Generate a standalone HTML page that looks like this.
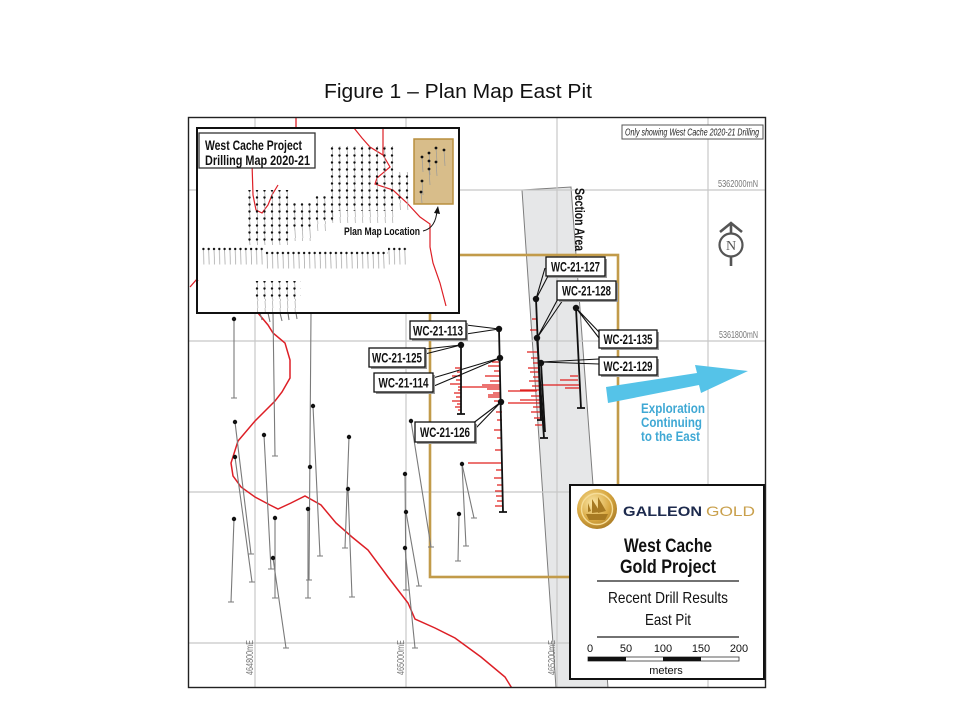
<!DOCTYPE html>
<html><head><meta charset="utf-8"><style>
html,body{margin:0;padding:0;background:#fff;}
svg{display:block;}
.c{font-family:"Liberation Sans Narrow","Liberation Sans",sans-serif;}
</style></head><body>
<svg width="960" height="720" viewBox="0 0 960 720" xmlns="http://www.w3.org/2000/svg">
<defs>
<pattern id="pa" x="0" y="0" width="7.5" height="7" patternUnits="userSpaceOnUse"><line x1="2" y1="1.5" x2="2.5" y2="7" stroke="#a0a0a0" stroke-width="0.7"/><circle cx="2" cy="1.5" r="1.2" fill="#111"/></pattern>
<pattern id="pl" x="0" y="0" width="7.5" height="7" patternUnits="userSpaceOnUse"><line x1="2.5" y1="0" x2="2.9" y2="7" stroke="#a8a8a8" stroke-width="0.7"/></pattern>
<pattern id="prA" x="0" y="247.5" width="5.3" height="20" patternUnits="userSpaceOnUse"><line x1="2" y1="1.5" x2="2.5" y2="17" stroke="#a0a0a0" stroke-width="0.7"/><circle cx="2" cy="1.5" r="1.2" fill="#111"/></pattern>
<pattern id="prB" x="0" y="251.5" width="5.3" height="20" patternUnits="userSpaceOnUse"><line x1="2" y1="1.5" x2="2.5" y2="17" stroke="#a0a0a0" stroke-width="0.7"/><circle cx="2" cy="1.5" r="1.2" fill="#111"/></pattern>
<clipPath id="insetclip"><rect x="198" y="129" width="260" height="183"/></clipPath>
<clipPath id="frameclip"><rect x="189" y="118" width="576" height="569"/></clipPath>
<radialGradient id="gold" cx="40%" cy="35%" r="70%"><stop offset="0" stop-color="#fbe7a6"/><stop offset="0.6" stop-color="#d9a942"/><stop offset="1" stop-color="#a97a24"/></radialGradient>
</defs>

<!-- Title -->
<text x="324" y="98" font-family="'Liberation Sans',sans-serif" font-size="20" textLength="268" lengthAdjust="spacingAndGlyphs" fill="#111">Figure 1 – Plan Map East Pit</text>

<g clip-path="url(#frameclip)">
<!-- Section area band -->
<polygon points="522,190 571,187 608,688 556,688" fill="#e6e7e8" stroke="#7d7d7d" stroke-width="1"/>

<!-- grid -->
<g stroke="#c8c8c8" stroke-width="1.2">
<line x1="255" y1="117" x2="255" y2="688"/>
<line x1="406" y1="117" x2="406" y2="688"/>
<line x1="557" y1="117" x2="557" y2="688"/>
<line x1="708" y1="117" x2="708" y2="688"/>
<line x1="188" y1="190" x2="766" y2="190"/>
<line x1="188" y1="341" x2="766" y2="341"/>
<line x1="188" y1="492" x2="766" y2="492"/>
<line x1="188" y1="643" x2="766" y2="643"/>
</g>

<!-- gold rectangle -->
<rect x="430" y="255" width="188" height="322" fill="none" stroke="#c29b4a" stroke-width="2.6"/>

<!-- red boundary -->
<path d="M258,313 L268,325 L273,333 L285,343 L290,360 L290,378 L282,392 L275,401 L255,421 L238,441 L231,463 L233,476 L241,487 L255,497 L270,505 L278,509 L291,503 L305,496 L321,505 L336,523 L352,537 L368,550 L388,577 L408,603 L415,619 L435,628 L455,638 L481,657 L505,677 L513,690" fill="none" stroke="#dd1f26" stroke-width="1.5"/>
<path d="M296,117 L296,128 M190,287 L197,279" fill="none" stroke="#dd1f26" stroke-width="1.3"/>

<!-- grey drill holes -->
<g stroke="#7a7a7a" stroke-width="1.1" fill="none">
<path d="M234,319 L234,398 M231,398H237"/>
<path d="M235,422 L251,554 M248,554H254"/>
<path d="M235,457 L252,582 M249,582H255"/>
<path d="M264,435 L271,569 M268,569H274"/>
<path d="M273,313 L275,456 M272,456H278"/>
<path d="M313,406 L320,556 M317,556H323"/>
<path d="M311,313 L309,580 M306,580H312"/>
<path d="M308,509 L308,598 M305,598H311"/>
<path d="M349,437 L345,548 M342,548H348"/>
<path d="M348,489 L352,597 M349,597H355"/>
<path d="M411,421 L431,547 M428,547H434"/>
<path d="M405,474 L406,590 M403,590H409"/>
<path d="M406,512 L419,586 M416,586H422"/>
<path d="M405,548 L415,648 M412,648H418"/>
<path d="M234,519 L231,602 M228,602H234"/>
<path d="M275,518 L275,598 M272,598H278"/>
<path d="M273,558 L286,648 M283,648H289"/>
<path d="M459,514 L458,561 M455,561H461"/>
<path d="M462,464 L474,518 M471,518H477"/>
<path d="M462,464 L466,546 M463,546H469"/>
<path d="M260,313 L262,320 M268,313 L270,322 M280,313 L282,321 M288,313 L289,320 M296,313 L297,319"/>
</g>
<g fill="#111">
<circle cx="234" cy="319" r="2.2"/><circle cx="235" cy="422" r="2.2"/><circle cx="235" cy="457" r="2.2"/>
<circle cx="264" cy="435" r="2.2"/><circle cx="313" cy="406" r="2.2"/><circle cx="310" cy="467" r="2.2"/>
<circle cx="308" cy="509" r="2.2"/><circle cx="349" cy="437" r="2.2"/><circle cx="348" cy="489" r="2.2"/>
<circle cx="411" cy="421" r="2.2"/><circle cx="405" cy="474" r="2.2"/><circle cx="406" cy="512" r="2.2"/>
<circle cx="405" cy="548" r="2.2"/><circle cx="234" cy="519" r="2.2"/><circle cx="275" cy="518" r="2.2"/>
<circle cx="273" cy="558" r="2.2"/><circle cx="459" cy="514" r="2.2"/><circle cx="462" cy="464" r="2.2"/>
</g>

<!-- red intercepts -->
<path d="M455,368H461 M457,372H461 M452,376H461 M456,380H461 M450,384H461 M458,390H461 M454,393H461 M456,397H461 M452,401H461 M457,404H461 M455,407H461 M458,410H461
M458,387H500 M488,395H500
M492,362H500 M488,366H500 M494,371H500 M485,376H500 M490,381H500 M482,385H500 M487,389H500 M493,393H500 M488,397H500 M494,401H500
M532,319H537 M530,330H537 M527,352H538 M531,358H538 M533,363H539 M528,368H539 M530,372H539 M533,377H540 M529,381H540 M532,386H540 M520,390H540 M508,391H537 M531,396H540 M520,400H540 M508,403H540 M533,407H541 M531,412H541 M534,418H542 M535,425H542
M570,376H578 M560,380H578 M540,385H579 M565,388H579
M496,412H502 M497,420H502 M494,430H502 M497,438H502 M495,450H502 M468,463H502 M496,470H502 M494,478H502 M497,485H502 M495,491H502 M496,496H502 M497,501H502 M495,506H502" fill="none" stroke="#e0201f" stroke-width="1.3"/>

<!-- main drill holes -->
<g stroke="#111" stroke-width="1.8" fill="none">
<path d="M499,329 L503,512 M499,512H507"/>
<path d="M461,345 L461,414 M457,414H465"/>
<path d="M536,299 L541,420 M537,420H545"/>
<path d="M537,338 L544,438 M540,438H548"/>
<path d="M541,363 L545,432"/>
<path d="M576,308 L581,408 M577,408H585"/>
</g>
<g fill="#111">
<circle cx="499" cy="329" r="3.2"/><circle cx="500" cy="358" r="3.2"/><circle cx="501" cy="402" r="3.2"/>
<circle cx="461" cy="345" r="3.2"/><circle cx="536" cy="299" r="3.2"/><circle cx="537" cy="338" r="3.2"/>
<circle cx="541" cy="363" r="3.2"/><circle cx="576" cy="308" r="3.2"/>
</g>

<!-- connectors -->
<g stroke="#111" stroke-width="1.1" fill="none">
<path d="M466,325 L499,329 L466,334"/>
<path d="M425,349 L461,345 L425,354"/>
<path d="M433,378 L500,358 L434,386"/>
<path d="M472,424 L501,402 L475,429"/>
<path d="M545,268 L536,299 L548,276"/>
<path d="M560,295 L537,338 L563,300"/>
<path d="M599,332 L576,308 L599,338"/>
<path d="M599,359 L541,362 L599,364"/>
</g>

<!-- labels -->
<g class="c" font-weight="bold" font-size="14" fill="#111" text-anchor="middle">
<rect x="412" y="323" width="56" height="18" fill="#999"/><rect x="410" y="321" width="56" height="18" fill="#fff" stroke="#111" stroke-width="1.3"/>
<text x="438" y="335.5" textLength="50" lengthAdjust="spacingAndGlyphs">WC-21-113</text>
<rect x="371" y="350" width="56" height="19" fill="#999"/><rect x="369" y="348" width="56" height="19" fill="#fff" stroke="#111" stroke-width="1.3"/>
<text x="397" y="362.5" textLength="50" lengthAdjust="spacingAndGlyphs">WC-21-125</text>
<rect x="376" y="375" width="59" height="19" fill="#999"/><rect x="374" y="373" width="59" height="19" fill="#fff" stroke="#111" stroke-width="1.3"/>
<text x="403.5" y="387.5" textLength="50" lengthAdjust="spacingAndGlyphs">WC-21-114</text>
<rect x="417" y="424" width="60" height="20" fill="#999"/><rect x="415" y="422" width="60" height="20" fill="#fff" stroke="#111" stroke-width="1.3"/>
<text x="445" y="437" textLength="50" lengthAdjust="spacingAndGlyphs">WC-21-126</text>
<rect x="548" y="259" width="59" height="19" fill="#999"/><rect x="546" y="257" width="59" height="19" fill="#fff" stroke="#111" stroke-width="1.3"/>
<text x="575.5" y="271.5" textLength="49" lengthAdjust="spacingAndGlyphs">WC-21-127</text>
<rect x="559" y="283" width="59" height="19" fill="#999"/><rect x="557" y="281" width="59" height="19" fill="#fff" stroke="#111" stroke-width="1.3"/>
<text x="586.5" y="295.5" textLength="49" lengthAdjust="spacingAndGlyphs">WC-21-128</text>
<rect x="601" y="332" width="58" height="18" fill="#999"/><rect x="599" y="330" width="58" height="18" fill="#fff" stroke="#111" stroke-width="1.3"/>
<text x="628" y="344" textLength="49" lengthAdjust="spacingAndGlyphs">WC-21-135</text>
<rect x="601" y="359" width="58" height="18" fill="#999"/><rect x="599" y="357" width="58" height="18" fill="#fff" stroke="#111" stroke-width="1.3"/>
<text x="628" y="371" textLength="49" lengthAdjust="spacingAndGlyphs">WC-21-129</text>
</g>

<!-- Section Area label -->
<text class="c" x="575" y="188" font-weight="bold" font-size="14" fill="#111" transform="rotate(90 575 188)" textLength="63" lengthAdjust="spacingAndGlyphs">Section Area</text>

<!-- coordinates -->
<g class="c" font-size="10" fill="#777">
<text x="718" y="187" textLength="40" lengthAdjust="spacingAndGlyphs">5362000mN</text>
<text x="719" y="338" textLength="39" lengthAdjust="spacingAndGlyphs">5361800mN</text>
<text x="253" y="675" transform="rotate(-90 253 675)" textLength="35" lengthAdjust="spacingAndGlyphs">464800mE</text>
<text x="404" y="675" transform="rotate(-90 404 675)" textLength="35" lengthAdjust="spacingAndGlyphs">465000mE</text>
<text x="555" y="675" transform="rotate(-90 555 675)" textLength="35" lengthAdjust="spacingAndGlyphs">465200mE</text>
</g>

<!-- Only showing box -->
<rect x="622" y="125" width="141" height="14" fill="#fff" stroke="#555" stroke-width="1"/>
<text class="c" x="625" y="135.5" font-style="italic" font-size="10" fill="#222" textLength="134" lengthAdjust="spacingAndGlyphs">Only showing West Cache 2020-21 Drilling</text>

<!-- North arrow -->
<g stroke="#555" stroke-width="2.6" fill="none">
<line x1="731" y1="224" x2="731" y2="233"/>
<line x1="731" y1="257" x2="731" y2="266"/>
<path d="M720,232 L731,223 L742,232"/>
<circle cx="731" cy="245" r="11.5" stroke-width="2.2"/>
</g>
<text x="731" y="250" text-anchor="middle" font-family="'Liberation Serif',serif" font-size="14" fill="#555">N</text>

<!-- Exploration arrow -->
<polygon points="606,387 697,373 695,365 748,371 701,393 699,385 608,403" fill="#55c3e8"/>
<g class="c" font-weight="bold" font-size="14" fill="#3fa8d4">
<text x="641" y="413" textLength="64" lengthAdjust="spacingAndGlyphs">Exploration</text>
<text x="641" y="427" textLength="61" lengthAdjust="spacingAndGlyphs">Continuing</text>
<text x="641" y="441" textLength="59" lengthAdjust="spacingAndGlyphs">to the East</text>
</g>

<!-- Inset -->
<rect x="197" y="128" width="262" height="185" fill="#fff"/>
<g clip-path="url(#insetclip)">
<path d="M354,128 L362,138 L370,147 L383,155 L390,167 L377,178 L375,184 L393,190 L407,203 L420,217 L430,224 L430,247 L433,263 L440,283 L446,306 M383,128 L383,155 M252,163 L253,195 L256,210 L262,213 L268,205 L272,195 L278,185 M198,280 L192,290 M257,312 L258,313" fill="none" stroke="#dd1f26" stroke-width="1.2"/>
<rect x="414" y="139" width="39" height="65" fill="#d8bd8a" stroke="#b88f3e" stroke-width="1.5"/>
<!-- upper block -->
<rect x="328" y="146" width="68" height="65" fill="url(#pa)"/>
<rect x="328" y="211" width="68" height="12" fill="url(#pl)"/>
<rect x="328" y="211" width="8" height="10" fill="url(#pa)"/>
<!-- right column -->
<rect x="397" y="172" width="16" height="28" fill="url(#pa)"/>
<rect x="397" y="200" width="16" height="10" fill="url(#pl)"/>
<!-- mid-right -->
<rect x="313" y="196" width="15" height="25" fill="url(#pa)"/>
<rect x="313" y="221" width="15" height="10" fill="url(#pl)"/>
<!-- mid -->
<rect x="290" y="203" width="23" height="28" fill="url(#pa)"/>
<rect x="290" y="231" width="23" height="10" fill="url(#pl)"/>
<!-- left -->
<rect x="248" y="190" width="42" height="55" fill="url(#pa)"/>
<!-- long rows -->
<rect x="202" y="247" width="62" height="18" fill="url(#prA)"/>
<rect x="264" y="251" width="124" height="18" fill="url(#prB)"/>
<rect x="388" y="247" width="20" height="18" fill="url(#prA)"/>
<!-- bottom cluster -->
<rect x="255" y="281" width="46" height="18" fill="url(#pa)"/>
<rect x="255" y="299" width="46" height="14" fill="url(#pl)"/>
<g stroke="#999" stroke-width="0.7">
<line x1="422" y1="157" x2="423" y2="172"/><line x1="429" y1="153" x2="430" y2="166"/><line x1="436" y1="148" x2="437" y2="162"/>
<line x1="444" y1="150" x2="445" y2="166"/><line x1="429" y1="161" x2="430" y2="175"/><line x1="436" y1="162" x2="437" y2="176"/>
<line x1="429" y1="169" x2="430" y2="185"/><line x1="422" y1="181" x2="423" y2="195"/><line x1="421" y1="192" x2="422" y2="203"/>
</g>
<g fill="#111">
<circle cx="422" cy="157" r="1.4"/><circle cx="429" cy="153" r="1.4"/><circle cx="436" cy="148" r="1.4"/>
<circle cx="444" cy="150" r="1.4"/><circle cx="429" cy="161" r="1.4"/><circle cx="436" cy="162" r="1.4"/>
<circle cx="429" cy="169" r="1.4"/><circle cx="422" cy="181" r="1.4"/><circle cx="421" cy="192" r="1.4"/>
</g>
</g>
<rect x="197" y="128" width="262" height="185" fill="none" stroke="#111" stroke-width="2"/>
<rect x="199" y="133" width="116" height="35" fill="#fff" stroke="#333" stroke-width="1.3"/>
<g class="c" font-weight="bold" font-size="14" fill="#111">
<text x="205" y="150" textLength="97" lengthAdjust="spacingAndGlyphs">West Cache Project</text>
<text x="205" y="165" textLength="105" lengthAdjust="spacingAndGlyphs">Drilling Map 2020-21</text>
</g>
<text class="c" x="344" y="235" font-weight="bold" font-size="11" fill="#111" textLength="76" lengthAdjust="spacingAndGlyphs">Plan Map Location</text>
<path d="M423,231 Q436,228 437,210" fill="none" stroke="#111" stroke-width="1"/>
<path d="M434,213 L438,206 L440,214 Z" fill="#111"/>

<!-- Legend -->
<rect x="570" y="485" width="194" height="194" fill="#fff" stroke="#111" stroke-width="2"/>
<circle cx="597" cy="509" r="20" fill="url(#gold)"/>
<circle cx="597" cy="509" r="15.5" fill="none" stroke="#f6dd98" stroke-width="1.4"/>
<path d="M586,514 L608,514 L605,520 L589,520 Z M592,513 L592,499 L600,512 Z M598,513 L598,497 L606,511 Z M588,512 L588,503 L591,511 Z" fill="#a77a22"/>
<text x="623" y="516" font-family="'Liberation Sans',sans-serif" font-weight="bold" font-size="14" fill="#1d2a4d" textLength="79" lengthAdjust="spacingAndGlyphs">GALLEON</text>
<text x="706" y="516" font-family="'Liberation Sans',sans-serif" font-size="14" fill="#c9a04c" textLength="49" lengthAdjust="spacingAndGlyphs">GOLD</text>
<g class="c" fill="#111" text-anchor="middle">
<text x="668" y="552" font-weight="bold" font-size="19" textLength="88" lengthAdjust="spacingAndGlyphs">West Cache</text>
<text x="668" y="573" font-weight="bold" font-size="19" textLength="96" lengthAdjust="spacingAndGlyphs">Gold Project</text>
<text x="668" y="603" font-size="16" textLength="120" lengthAdjust="spacingAndGlyphs">Recent Drill Results</text>
<text x="668" y="625" font-size="16" textLength="46" lengthAdjust="spacingAndGlyphs">East Pit</text>
<text x="590" y="652" font-size="11">0</text>
<text x="626" y="652" font-size="11">50</text>
<text x="663" y="652" font-size="11">100</text>
<text x="701" y="652" font-size="11">150</text>
<text x="739" y="652" font-size="11">200</text>
<text x="666" y="674" font-size="11">meters</text>
</g>
<line x1="597" y1="581" x2="739" y2="581" stroke="#444" stroke-width="1.5"/>
<line x1="597" y1="637" x2="739" y2="637" stroke="#444" stroke-width="1.5"/>
<rect x="588" y="657" width="151" height="4" fill="#fff" stroke="#333" stroke-width="0.8"/>
<rect x="588" y="657" width="38" height="4" fill="#111"/>
<rect x="663" y="657" width="38" height="4" fill="#111"/>
</g>

<!-- frame -->
<rect x="188.5" y="117.5" width="577" height="570" fill="none" stroke="#222" stroke-width="1.4"/>
</svg>
</body></html>
